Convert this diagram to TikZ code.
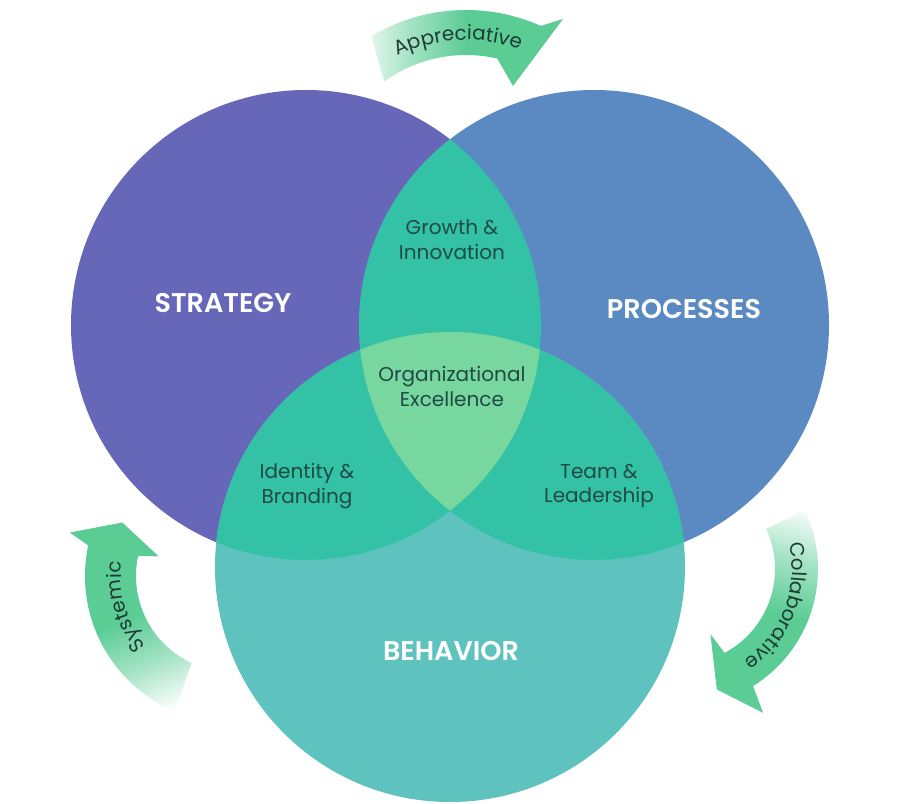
\documentclass[tikz,border=0pt]{standalone}
\usepackage{fontspec}
\setmainfont{Poppins}
\newfontfamily\popsemi{Poppins SemiBold}
\usetikzlibrary{calc,decorations.text}
\definecolor{cS}{HTML}{6767BA}
\definecolor{cP}{HTML}{5B8AC3}
\definecolor{cB}{HTML}{5EC3BF}
\definecolor{cPair}{HTML}{33C2A5}
\definecolor{cMid}{HTML}{78D69F}
\definecolor{agreen}{HTML}{5ACC94}
\definecolor{ink}{HTML}{1F4A45}
\definecolor{arrowink}{HTML}{1E3B36}
\colorlet{afade}{white!45!agreen}
\pgfdeclareverticalshading{arrowfade}{100bp}{color(0bp)=(white); color(20bp)=(white); color(35bp)=(afade); color(50bp)=(agreen); color(100bp)=(agreen)}
\begin{document}
\begin{tikzpicture}[x=0.02cm,y=-0.02cm,
  lbl/.style={font=\fontsize{11.4}{14.2}\selectfont, text=ink, align=center, inner sep=0pt},
  title/.style={font=\popsemi\fontsize{15.4}{17}\selectfont, text=white, inner sep=0pt},
  arrowtext/.style={decorate, decoration={text along path, text align=center, text color=arrowink, text={|\fontsize{11.3}{13}\selectfont|#1}}}]
\useasboundingbox (0,0) rectangle (900,804);
\fill[white] (0,0) rectangle (900,804);
\coordinate (S) at (306,325);
\coordinate (P) at (594,325);
\coordinate (B) at (450,567);
\def\R{235}
% circles
\fill[cS] (S) circle[radius=\R];
\fill[cP] (P) circle[radius=\R];
\fill[cB] (B) circle[radius=\R];
\begin{scope}
  \clip (S) circle[radius=\R];
  \fill[cPair] (P) circle[radius=\R];
  \fill[cPair] (B) circle[radius=\R];
\end{scope}
\begin{scope}
  \clip (P) circle[radius=\R];
  \fill[cPair] (B) circle[radius=\R];
\end{scope}
\begin{scope}
  \clip (S) circle[radius=\R];
  \clip (P) circle[radius=\R];
  \fill[cMid] (B) circle[radius=\R];
\end{scope}
% labels
\node[title] (st) at (223,303) {STRATEGY};
\node[title] (pr) at (684,309) {PROCESSES};
\node[title] (be) at (451,651) {BEHAVIOR};
\node[lbl] (gi) at (452,240) {Growth \&\\Innovation};
\node[lbl] (oe) at (452,386) {Organizational\\Excellence};
\node[lbl] (ib) at (307,486) {Identity \&\\Branding};
\node[lbl] (tl) at (599,486) {Team \&\\Leadership};
% arrows
\coordinate (A) at (466,194);
\coordinate (L) at (232,576);
\coordinate (Rc) at (680,569);
\shade[shading=arrowfade, shading angle=-90]
  ($(A)+(-121:184)$) arc[start angle=-121, end angle=-66, radius=184]
  -- (563,19) -- (513,86)
  -- ($(A)+(-77:139)$) arc[start angle=-77, end angle=-126, radius=139] -- cycle;
\shade[shading=arrowfade, shading angle=22]
  ($(L)+(113:147)$) arc[start angle=113, end angle=192, radius=147]
  -- ($(L)+(195:168)$) -- ($(L)+(206:122)$) -- ($(L)+(195:76)$)
  -- ($(L)+(192:96)$) arc[start angle=192, end angle=115, radius=96] -- cycle;
\shade[shading=arrowfade, shading angle=164]
  ($(Rc)+(-25:138)$) arc[start angle=-25, end angle=58, radius=138]
  -- ($(Rc)+(60:166)$) -- ($(Rc)+(73:126)$) -- ($(Rc)+(65:72)$)
  -- ($(Rc)+(62:95)$) arc[start angle=62, end angle=-25, radius=95] -- cycle;
% arrow texts
\path[arrowtext=Appreciative] ($(A)+(-133:154)$) arc[start angle=-133, end angle=-53, radius=154];
\path[arrowtext=Systemic] ($(L)+(124:111)$) arc[start angle=124, end angle=204, radius=111];
\path[arrowtext=Collaborative] ($(Rc)+(-25:112)$) arc[start angle=-25, end angle=67, radius=112];
\end{tikzpicture}
\end{document}
